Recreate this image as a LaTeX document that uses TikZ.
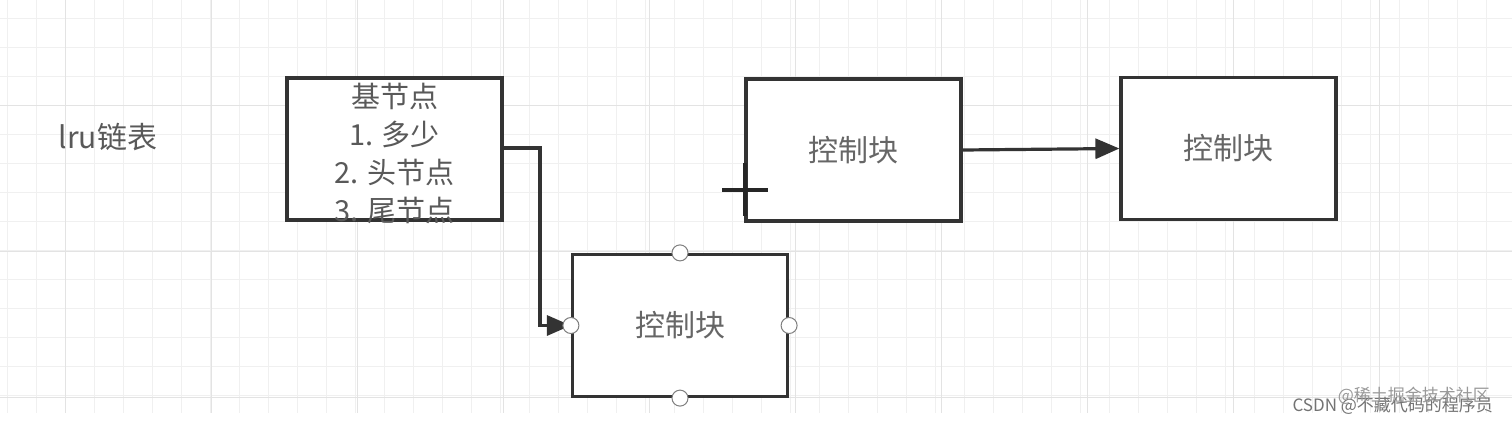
\documentclass[tikz,border=0pt]{standalone}
\usepackage{fontspec}
\setmainfont{Noto Sans CJK SC}
\usetikzlibrary{arrows.meta}
\begin{document}
\begin{tikzpicture}[x=0.5pt,y=-0.5pt,
  blk/.style={draw=black!80,line width=1.6pt,fill=white,minimum width=107.5pt,minimum height=71pt,inner sep=0pt,font=\fontsize{15}{17}\selectfont,text=black!60},
  port/.style={circle,draw=black!50,fill=white,minimum size=8pt,inner sep=0pt,line width=0.5pt},
  conn/.style={draw=black!80,line width=1.6pt,-{Triangle[length=12pt,width=10pt]}},
  lbl/.style={font=\fontsize{15}{17}\selectfont,text=black!65}]
\useasboundingbox (0,0) rectangle (1512,424);
\fill[white] (0,0) rectangle (1512,424);
\foreach \x in {7,36,...,1512} \draw[black!6,line width=0.4pt] (\x,0) -- (\x,413);
\foreach \y in {18,47,...,413} \draw[black!6,line width=0.4pt] (0,\y) -- (1512,\y);
\foreach \x in {65,211,...,1512} \draw[black!11,line width=0.5pt] (\x,0) -- (\x,413);
\foreach \y in {105,251,397} \draw[black!11,line width=0.5pt] (0,\y) -- (1512,\y);
\node[lbl] (t) at (108,137) {lru链表};
\node[blk] (a) at (394.5,149) {};
\begin{scope}
\clip (a.north west) rectangle ([yshift=-3pt]a.south east);
\node[lbl,align=center,font=\fontsize{14.5}{19}\selectfont] (at) at (394.5,153) {基节点\\1. 多少\\2. 头节点\\3. 尾节点};
\end{scope}
\node[blk] (b) at (680,325.5) {控制块};
\node[blk] (c) at (853.5,150) {控制块};
\node[blk] (d) at (1228.5,148.5) {控制块};
\coordinate (k1) at (540,148);
\draw[conn] (a.east |- k1) -- (k1) |- (b.west);
\draw[conn] (c.east) -- (d.west);
\node[port] (p1) at (b.north) {};
\node[port] (p2) at (b.west) {};
\node[port] (p3) at (b.east) {};
\node[port] (p4) at (b.south) {};
\coordinate (x1) at (722,190); \coordinate (x2) at (768,190);
\coordinate (x3) at (745,163); \coordinate (x4) at (745,216);
\draw[black!85,line width=1.6pt] (x1) -- (x2);
\draw[black!85,line width=2pt] (x3) -- (x4);
\node[font=\fontsize{8.5}{10}\selectfont,text=black!55,anchor=east] (w1) at (1500,406) {CSDN @不藏代码的程序员};
\node[font=\fontsize{8.5}{10}\selectfont,text=black!40,anchor=east] (w2) at (1497,396) {@稀土掘金技术社区};
\end{tikzpicture}
\end{document}
